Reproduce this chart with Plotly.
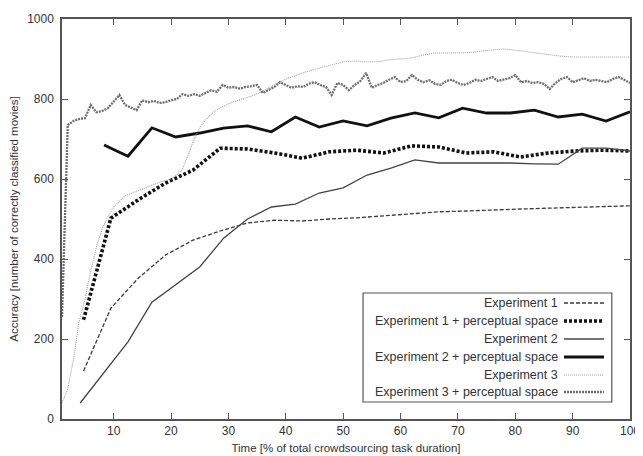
import plotly.graph_objects as go

# ---------------- data ----------------
step21 = [round(100 * k / 21, 2) for k in range(1, 22)]
step24 = [round(100 * k / 24, 2) for k in range(1, 25)]

exp1_x = step21
exp1_y = [120, 277, 352, 410, 447, 470, 490, 497, 495, 500, 503, 508, 514,
          518, 520, 523, 525, 527, 529, 531, 533]

exp1ps_x = step21
exp1ps_y = [248, 502, 548, 590, 622, 677, 675, 665, 652, 668, 672, 665, 683,
            680, 665, 668, 655, 665, 670, 672, 670]

exp2_x = step24
exp2_y = [40, 115, 193, 292, 335, 380, 452, 500, 530, 537, 565, 578, 610, 627,
          648, 640, 640, 640, 640, 638, 637, 677, 677, 670]

exp2ps_x = step24[1:]
exp2ps_y = [685, 657, 728, 705, 715, 727, 733, 718, 755, 730, 745, 733, 752,
            765, 753, 777, 765, 765, 772, 755, 762, 745, 768]

exp3_x = [1, 2, 3, 4, 5, 6, 7, 8, 9, 10, 12, 14, 16, 18, 20, 21, 22, 23, 24, 25,
          26, 27, 28, 29, 30, 32, 34, 36, 38, 40, 42, 44, 46, 48, 50, 52, 54, 56,
          58, 60, 62, 64, 66, 68, 70, 72, 74, 76, 78, 80, 82, 84, 86, 88, 90, 92,
          94, 96, 98, 100]
exp3_y = [40, 75, 150, 245, 300, 370, 430, 475, 505, 530, 558, 570, 582, 592,
          600, 610, 625, 660, 700, 727, 748, 762, 773, 780, 788, 798, 807, 820,
          835, 850, 860, 870, 878, 885, 893, 895, 893, 893, 898, 900, 903, 910,
          915, 915, 915, 916, 920, 923, 925, 922, 918, 914, 910, 907, 905, 905,
          905, 905, 905, 905]

exp3ps_x = list(range(1, 101))
exp3ps_y = [255, 735, 745, 750, 752, 785, 767, 770, 777, 795,
            810, 785, 778, 772, 797, 792, 795, 790, 792, 797,
            800, 812, 808, 812, 808, 815, 822, 818, 835, 828,
            830, 826, 830, 832, 835, 815, 822, 830, 842, 835,
            828, 832, 830, 838, 842, 835, 830, 810, 840, 835,
            822, 835, 845, 865, 828, 835, 840, 848, 855, 842,
            845, 860, 848, 842, 847, 838, 835, 845, 848, 840,
            835, 840, 848, 845, 850, 855, 845, 848, 852, 860,
            842, 845, 840, 842, 838, 825, 840, 850, 855, 842,
            848, 852, 845, 848, 845, 842, 850, 855, 848, 840]

x_ticks = [10, 20, 30, 40, 50, 60, 70, 80, 90, 100]
y_ticks = [0, 200, 400, 600, 800, 1000]

names = ["Experiment 1", "Experiment 1 + perceptual space", "Experiment 2",
         "Experiment 2 + perceptual space", "Experiment 3",
         "Experiment 3 + perceptual space"]

styles = [
    dict(color="#3a3a3a", width=1.3, dash="4px,2px"),
    dict(color="#111111", width=3.6, dash="3px,2px"),
    dict(color="#444444", width=1.3),
    dict(color="#111111", width=2.8),
    dict(color="#a0a0a0", width=1.1, dash="1px,1px"),
    dict(color="#6e6e6e", width=2.3, dash="2px,1px"),
]

series = [(exp1_x, exp1_y), (exp1ps_x, exp1ps_y), (exp2_x, exp2_y),
          (exp2ps_x, exp2ps_y), (exp3_x, exp3_y), (exp3ps_x, exp3ps_y)]

fig = go.Figure()
for (xs, ys), nm, st in zip(series, names, styles):
    fig.add_trace(go.Scatter(x=xs, y=ys, mode="lines", name=nm, line=st,
                             showlegend=False))

FONT = "Liberation Sans, Arial, sans-serif"
axis_common = dict(showline=True, linecolor="#555555", linewidth=1.5,
                   mirror="ticks", ticks="inside", ticklen=6, tickwidth=1,
                   tickcolor="#555555", showgrid=False, zeroline=False,
                   automargin=False,
                   tickfont=dict(family=FONT, size=12, color="#333333"))

fig.update_xaxes(range=[1, 100], tickvals=x_ticks,
                 title=dict(text="Time [% of total crowdsourcing task duration]",
                            font=dict(family=FONT, size=11.5, color="#333333"),
                            standoff=7),
                 **axis_common)
fig.update_yaxes(range=[0, 1000], tickvals=y_ticks, ticklabelstandoff=4,
                 title=dict(text="Accuracy [number of correctly classified movies]",
                            font=dict(family=FONT, size=11.5, color="#333333"),
                            standoff=15),
                 **axis_common)

# custom legend (text right-aligned, sample on the right)
shapes = [dict(type="rect", xref="paper", yref="paper", x0=0.530, x1=0.968,
               y0=0.0425, y1=0.315, line=dict(color="#555555", width=1.2),
               fillcolor="white", layer="above")]
annotations = []
row_px = [303, 321, 339, 357, 375, 392]
for py, nm, st in zip(row_px, names, styles):
    yp = (419 - py) / 400
    annotations.append(dict(xref="paper", yref="paper", x=(560 - 62) / 568, y=yp,
                            text=nm, showarrow=False, xanchor="right",
                            yanchor="middle",
                            font=dict(family=FONT, size=12.5, color="#333333")))
    shapes.append(dict(type="line", xref="paper", yref="paper",
                       x0=(564 - 62) / 568, x1=(604 - 62) / 568, y0=yp, y1=yp,
                       line=st, layer="above"))

# the page body adds an 8px offset, so the figure is sized/margined to compensate
fig.update_layout(width=635, height=448,
                  margin=dict(l=54, r=13, t=11, b=37),
                  paper_bgcolor="white", plot_bgcolor="white",
                  shapes=shapes, annotations=annotations,
                  font=dict(family=FONT))

fig.write_html("out.html")
